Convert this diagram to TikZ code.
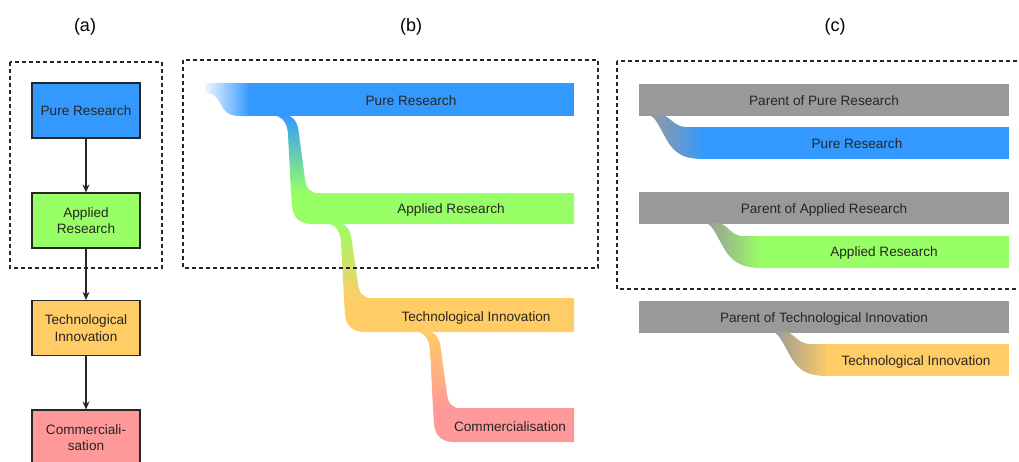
\documentclass[tikz,border=0pt]{standalone}
\usepackage{fontspec}
\setmainfont{Liberation Sans}
\usepackage{tikz}
\usetikzlibrary{arrows.meta}

\definecolor{pureblue}{HTML}{3399FF}
\definecolor{appgreen}{HTML}{99FF66}
\definecolor{techorange}{HTML}{FFCC66}
\definecolor{compink}{HTML}{FF9999}
\definecolor{parentgray}{HTML}{999999}

\tikzset{
    stage/.style={draw=black!85, line width=1.2pt, minimum width=108pt, minimum height=55pt, inner sep=0pt, align=center, text=black!85, font=\fontsize{13.6}{16.5}\selectfont},
    barlabel/.style={text=black!85, inner sep=0pt, text height=10pt, text depth=3pt, font=\fontsize{13.6}{16}\selectfont},
    panel/.style={font=\fontsize{18}{20}\selectfont},
    groupbox/.style={draw=black!85, line width=1.2pt, dash pattern=on 4pt off 3pt},
}

\begin{document}
\begin{tikzpicture}[x=1pt, y=-1pt, >={Stealth[length=8pt, width=7pt]}, line width=1.2pt]
    \useasboundingbox (0,0) rectangle (1019,461);
    \clip (0,0) rectangle (1019,461);
    \node[panel] (pa) at (85,27) {(a)};
    \node[panel] (pb) at (411,27) {(b)};
    \node[panel] (pc) at (835,27) {(c)};

    % (a)
    \node[stage, fill=pureblue] (pr) at (86,110.5) {Pure Research};
    \node[stage, fill=appgreen] (ar) at (86,220.5) {Applied\\Research};
    \node[stage, fill=techorange] (ti) at (86,328) {Technological\\Innovation};
    \node[stage, fill=compink] (co) at (86,437.5) {Commerciali-\\sation};
    \foreach \s/\t in {pr/ar, ar/ti, ti/co}
        \draw[->, black!85] (\s) -- (\t);
    \draw[groupbox] (10,62) rectangle (162,268);

    % (b)
    \shade[left color=pureblue!8, right color=pureblue] (205,83) -- (250,83) -- (250,116) -- (240,116) .. controls (226,116) and (224,110) .. (220,103) .. controls (216,96) and (213,93) .. (205,93) -- cycle;
    \fill[pureblue] (248,83) rectangle (574,116);
    \foreach \xa/\ya/\yt/\yb/\ca/\cb in {270/116/193/224/pureblue/appgreen, 323/224/298/332/appgreen/techorange, 412/332/408/442/techorange/compink} {
        \shade[top color=\ca, bottom color=\cb] (\xa,\ya-1) .. controls (\xa+11,\ya-1) and (\xa+17,\ya+5) .. (\xa+18,\ya+18)
            -- (\xa+21,\yt+0.5) -- (\xa+49,\yt+0.5) .. controls (\xa+40,\yt) and (\xa+36,\yt-5) .. (\xa+35,\yt-14)
            -- (\xa+29,\ya+18) .. controls (\xa+28,\ya+6) and (\xa+23,\ya-1) .. (\xa+14,\ya-1) -- cycle;
        \fill[\cb] (\xa+21,\yt) -- (\xa+22,\yb-18) .. controls (\xa+23,\yb-6) and (\xa+30,\yb) .. (\xa+42,\yb)
            -- (574,\yb) -- (574,\yt) -- cycle;
    };
    \node[barlabel] (bpr) at (411,102) {Pure Research};
    \node[barlabel] (bar) at (451,210) {Applied Research};
    \node[barlabel] (bti) at (476,318) {Technological Innovation};
    \node[barlabel] (bco) at (510,428) {Commercialisation};
    \draw[groupbox] (183,60) rectangle (598,268);

    % (c)
    \foreach \xa/\ya/\yt/\cb in {648/116/127/pureblue, 705/224/236/appgreen, 772/333/344/techorange} {
        \fill[parentgray] (639,\ya-32) rectangle (1009,\ya);
        \shade[left color=parentgray, right color=\cb] (\xa,\ya-1) -- (\xa+14,\ya-1) .. controls (\xa+22,\ya) and (\xa+26,\yt) .. (\xa+38,\yt)
            -- (\xa+57,\yt) -- (\xa+57,\yt+32) -- (\xa+56,\yt+32) .. controls (\xa+40,\yt+32) and (\xa+30,\ya+40) .. (\xa+22,\ya+29)
            .. controls (\xa+13,\ya+16) and (\xa+8,\ya-1) .. (\xa,\ya-1) -- cycle;
        \fill[\cb] (\xa+55,\yt) rectangle (1009,\yt+32);
    };
    \node[barlabel] (cpp) at (824,102) {Parent of Pure Research};
    \node[barlabel] (cpr) at (857,145) {Pure Research};
    \node[barlabel] (cpa) at (824,210) {Parent of Applied Research};
    \node[barlabel] (car) at (884,253) {Applied Research};
    \node[barlabel] (cpt) at (824,319) {Parent of Technological Innovation};
    \node[barlabel] (cti) at (916,362) {Technological Innovation};
    \draw[groupbox] (617,61) rectangle (1030,289);
\end{tikzpicture}
\end{document}
